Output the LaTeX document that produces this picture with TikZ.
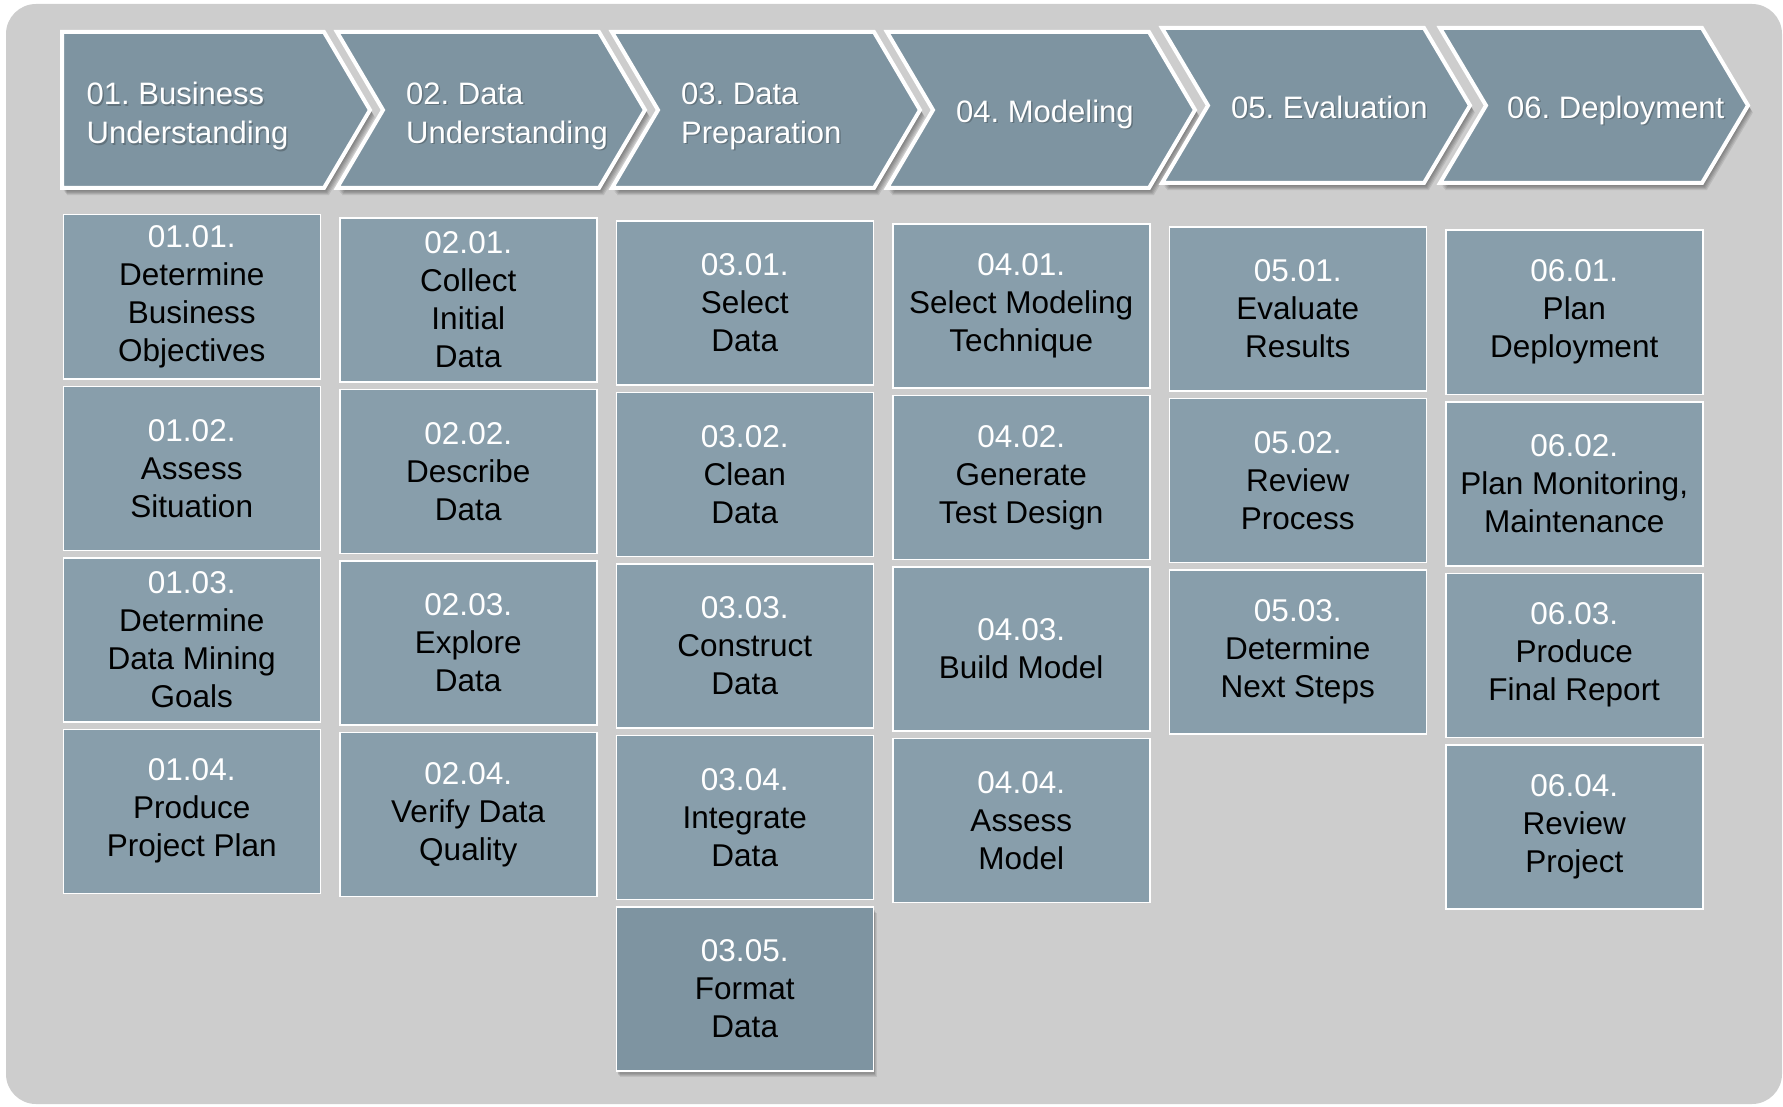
\documentclass[tikz,border=0pt]{standalone}
\usepackage{fontspec}
\setmainfont{Liberation Sans}
\frenchspacing
\definecolor{bgc}{HTML}{CDCDCD}
\definecolor{chevc}{HTML}{7E94A1}
\definecolor{boxc}{HTML}{889EAB}
\newcommand{\wnum}[1]{\textcolor{white}{#1}}
\tikzset{
  chevshape/.style={fill=chevc, draw=white, line width=4pt, line join=miter},
  chevshadow/.style={fill=black, opacity=0.09},
  chevtxt/.style={text=white, align=left, inner sep=0pt, anchor=west, font=\fontsize{31}{39}\selectfont},
  chevtxtshadow/.style={text=black, opacity=0.22, align=left, inner sep=0pt, anchor=west, font=\fontsize{31}{39}\selectfont},
  stepbox/.style={draw=white, line width=1.5pt, fill=boxc, minimum width=257pt, minimum height=164pt,
    anchor=north west, align=center, inner sep=0pt, text=black, font=\fontsize{31.5}{38}\selectfont},
  darkbox/.style={stepbox, fill=chevc},
}
\begin{document}
\begin{tikzpicture}[x=1pt,y=-1pt]
\useasboundingbox (0,0) rectangle (1783,1107);
\fill[bgc, rounded corners=30pt] (6,4) rectangle (1782,1104);

% chevron shadows
\foreach \L/\T/\B/\N in {62/32/188/0, 337/32/188/46, 612/32/188/46, 887/32/188/46, 1162/28/183/46, 1440/28/183/46}{
  \foreach \k in {2,3,4,5,6}{
    \fill[chevshadow, shift={(\k*0.8,\k*1.2)}] (\L,\T) -- ({\L+262},\T) -- ({\L+308},{(\T+\B)/2}) -- ({\L+262},\B) -- (\L,\B) -- ({\L+\N},{(\T+\B)/2}) -- cycle;
  }
}
% chevrons
\foreach \L/\T/\B/\N in {62/32/188/0, 337/32/188/46, 612/32/188/46, 887/32/188/46, 1162/28/183/46, 1440/28/183/46}{
  \draw[chevshape] (\L,\T) -- ({\L+262},\T) -- ({\L+308},{(\T+\B)/2}) -- ({\L+262},\B) -- (\L,\B) -- ({\L+\N},{(\T+\B)/2}) -- cycle;
}

% chevron texts
\node[chevtxtshadow] (p1s) at (88,117.5) {01. Business\\Understanding};
\node[chevtxt] (p1) at (86.5,116) {01. Business\\Understanding};
\node[chevtxtshadow] (p2s) at (407.5,117.5) {02. Data\\Understanding};
\node[chevtxt] (p2) at (406,116) {02. Data\\Understanding};
\node[chevtxtshadow] (p3s) at (682.5,117.5) {03. Data\\Preparation};
\node[chevtxt] (p3) at (681,116) {03. Data\\Preparation};
\node[chevtxtshadow] (p4s) at (957.5,115.5) {04. Modeling};
\node[chevtxt] (p4) at (956,114) {04. Modeling};
\node[chevtxtshadow] (p5s) at (1232.5,108.5) {05. Evaluation};
\node[chevtxt] (p5) at (1231,107) {05. Evaluation};
\node[chevtxtshadow] (p6s) at (1508.5,111.5) {06. Deployment};
\node[chevtxt] (p6) at (1507,110) {06. Deployment};

% column 1
\node[stepbox] (b11) at (62.5,214) {\wnum{01.01.}\\Determine\\Business\\Objectives};
\node[stepbox] (b12) at (62.5,385.5) {\wnum{01.02.}\\Assess\\Situation};
\node[stepbox] (b13) at (62.5,557) {\wnum{01.03.}\\Determine\\Data Mining\\Goals};
\node[stepbox] (b14) at (62.5,728.5) {\wnum{01.04.}\\Produce\\Project Plan};
% column 2
\node[stepbox] (b21) at (339,217.1) {\wnum{02.01.}\\Collect\\Initial\\Data};
\node[stepbox] (b22) at (339,388.6) {\wnum{02.02.}\\Describe\\Data};
\node[stepbox] (b23) at (339,560.1) {\wnum{02.03.}\\Explore\\Data};
\node[stepbox] (b24) at (339,731.6) {\wnum{02.04.}\\Verify Data\\Quality};
% column 3
\node[stepbox] (b31) at (615.5,220.2) {\wnum{03.01.}\\Select\\Data};
\node[stepbox] (b32) at (615.5,391.7) {\wnum{03.02.}\\Clean\\Data};
\node[stepbox] (b33) at (615.5,563.2) {\wnum{03.03.}\\Construct\\Data};
\node[stepbox] (b34) at (615.5,734.7) {\wnum{03.04.}\\Integrate\\Data};
\foreach \k in {2,3,4,5,6}{
  \fill[black, opacity=0.08] ({615.5+\k*0.7},{906.2+\k*1.1}) rectangle ({872.5+\k*0.7},{1070.2+\k*1.1});
}
\node[darkbox] (b35) at (615.5,906.2) {\wnum{03.05.}\\Format\\Data};
% column 4
\node[stepbox] (b41) at (892,223.3) {\wnum{04.01.}\\Select Modeling\\Technique};
\node[stepbox] (b42) at (892,394.8) {\wnum{04.02.}\\Generate\\Test Design};
\node[stepbox] (b43) at (892,566.3) {\wnum{04.03.}\\Build Model};
\node[stepbox] (b44) at (892,737.8) {\wnum{04.04.}\\Assess\\Model};
% column 5
\node[stepbox] (b51) at (1168.5,226.4) {\wnum{05.01.}\\Evaluate\\Results};
\node[stepbox] (b52) at (1168.5,397.9) {\wnum{05.02.}\\Review\\Process};
\node[stepbox] (b53) at (1168.5,569.4) {\wnum{05.03.}\\Determine\\Next Steps};
% column 6
\node[stepbox] (b61) at (1445,229.5) {\wnum{06.01.}\\Plan\\Deployment};
\node[stepbox] (b62) at (1445,401) {\wnum{06.02.}\\Plan Monitoring,\\Maintenance};
\node[stepbox] (b63) at (1445,572.5) {\wnum{06.03.}\\Produce\\Final Report};
\node[stepbox] (b64) at (1445,744) {\wnum{06.04.}\\Review\\Project};
\end{tikzpicture}
\end{document}
